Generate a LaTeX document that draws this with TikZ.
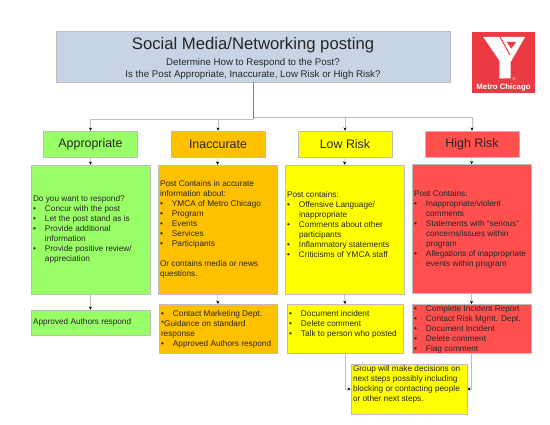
\documentclass[tikz,border=0pt]{standalone}
\usepackage{fontspec}
\setmainfont{Liberation Sans}
\usepackage{xcolor}
\usetikzlibrary{arrows.meta,positioning,calc}
\definecolor{figblue}{HTML}{C6D4E5}
\definecolor{figgreen}{HTML}{99FF66}
\definecolor{figorange}{HTML}{FFC000}
\definecolor{figyellow}{HTML}{FFFF00}
\definecolor{figred}{HTML}{FF5050}
\definecolor{logored}{HTML}{EC3A45}
\definecolor{edge}{HTML}{BDBDBD}
\tikzset{
  box/.style    ={draw=edge, line width=0.6pt, inner sep=2pt, align=flush left,
                  font=\fontsize{8.25}{10}\selectfont, text=black!85},
  head/.style   ={box, minimum width=94pt, minimum height=26pt, align=center,
                  font=\fontsize{12.4}{14}\selectfont},
  body/.style   ={box, text width=115pt, minimum height=129pt},
  fl/.style     ={draw=edge, line width=0.7pt, -{Stealth[black,length=3.2pt,width=3.2pt]}},
  stem/.style   ={draw=black!50, line width=0.9pt},
}
\newcommand{\bul}{\makebox[12pt][l]{\textbullet}}
\newcommand{\ind}{\hspace*{12pt}}

\begin{document}
\begin{tikzpicture}[x=1pt,y=-1pt]
  \useasboundingbox (0,0) rectangle (550,425);
  \node[box,fill=figblue,minimum width=394pt,minimum height=51pt,align=center,
        font=\fontsize{9.7}{12}\selectfont] (top) at (253,56.5)
    {{\fontsize{16.7}{20}\selectfont\rule{0pt}{17pt}Social Media/Networking posting}\\[4pt]
     Determine How to Respond to the Post?\\
     Is the Post Appropriate, Inaccurate, Low Risk or High Risk?};
  % logo
  \fill[logored] (472,32) rectangle (534.5,93.5);
  \fill[white] (483.3,37) -- (525,37) -- (510.7,62) -- (510.7,78.5) -- (499.3,78.5) -- (499.3,60.5) -- cycle;
  \draw[logored,line width=1pt] (500,37) -- (510,55);
  \fill[logored] (506.7,42) -- (516,42) -- (511.3,48.7) -- cycle;
  \node[font=\fontsize{4}{4}\selectfont,text=white,inner sep=0pt] (logomark) at (514,79) {\textregistered};
  \node[font=\bfseries\fontsize{7.8}{8}\selectfont,text=white,inner sep=0pt] (logotext) at (503.5,88) {Metro Chicago};

  \foreach \n/\x/\col/\txt in {appr/90.5/figgreen/Appropriate,
                               inac/218/figorange/Inaccurate,
                               low/345/figyellow/Low Risk,
                               high/472/figred/High Risk}
    \node[head,fill=\col] (\n) at (\x,144) {\txt};

  \node[body,fill=figgreen] (appr1) at (90.5,229.5)
    {Do you want to respond?\\
     \bul Concur with the post\\
     \bul Let the post stand as is\\
     \bul Provide additional\\
     \ind information\\
     \bul Provide positive review/\\
     \ind appreciation};
  \node[body,fill=figorange] (inac1) at (217.5,229.5)
    {Post Contains in accurate\\
     information about:\\
     \bul YMCA of Metro Chicago\\
     \bul Program\\
     \bul Events\\
     \bul Services\\
     \bul Participants\\[10pt]
     Or contains media or news\\
     questions.};
  \node[body,fill=figyellow] (low1) at (344.5,229.5)
    {Post contains:\\
     \bul Offensive Language/\\
     \ind inappropriate\\
     \bul Comments about other\\
     \ind participants\\
     \bul Inflammatory statements\\
     \bul Criticisms of YMCA staff\\
     ~};
  \node[body,fill=figred] (high1) at (471.5,229)
    {Post Contains:\\
     \bul Inappropriate/violent\\
     \ind comments\\
     \bul Statements with ``serious''\\
     \ind concerns/issues within\\
     \ind program\\
     \bul Allegations of inappropriate\\
     \ind events within program};

  \node[body,fill=figgreen,minimum height=25pt] (appr2) at (90.5,322.5) {Approved Authors respond};
  \node[body,fill=figorange,text width=114pt,minimum height=49.5pt] (inac2) at (218,329)
    {\bul Contact Marketing Dept.\\
     {*}Guidance on standard\\
     response\\
     \bul Approved Authors respond};
  \node[body,fill=figyellow,text width=112pt,minimum height=49.5pt] (low2) at (345,329)
    {\bul Document incident\\
     \bul Delete comment\\
     \bul Talk to person who posted\\
     ~};
  \node[body,fill=figred,inner ysep=0pt,minimum height=49.5pt] (high2) at (471.5,329)
    {\bul Complete Incident Report\\
     \bul Contact Risk Mgmt. Dept.\\
     \bul Document Incident\\
     \bul Delete comment\\
     \bul Flag comment};
  \node[body,fill=figyellow,text width=112pt,minimum height=50pt] (next) at (409,389)
    {Group will make decisions on\\
     next steps possibly including\\
     blocking or contacting people\\
     or other next steps.\\
     ~};

  % the two halves of the bus do not quite line up
  \coordinate (busl) at ($(top.south)+(0,37)$);
  \coordinate (busr) at ($(top.south)+(0,35)$);
  \draw[fl] (busl) -| (appr.north);
  \draw[fl] (busl) -| (inac.north);
  \draw[fl] (busr) -| (low.north);
  \draw[fl] (busr) -| (high.north);
  \draw[stem] (top.south) -- (busl);
  \foreach \n in {appr,inac,low,high}
    \draw[fl] (\n.south) -- (\n1.north);
  \foreach \n in {appr,inac,low,high}
    \draw[fl] (\n1.south) -- (\n2.north);
  \draw[fl] (low2.south) |- (next.west);
  \draw[fl] (high2.south) |- (next.east);
\end{tikzpicture}
\end{document}
